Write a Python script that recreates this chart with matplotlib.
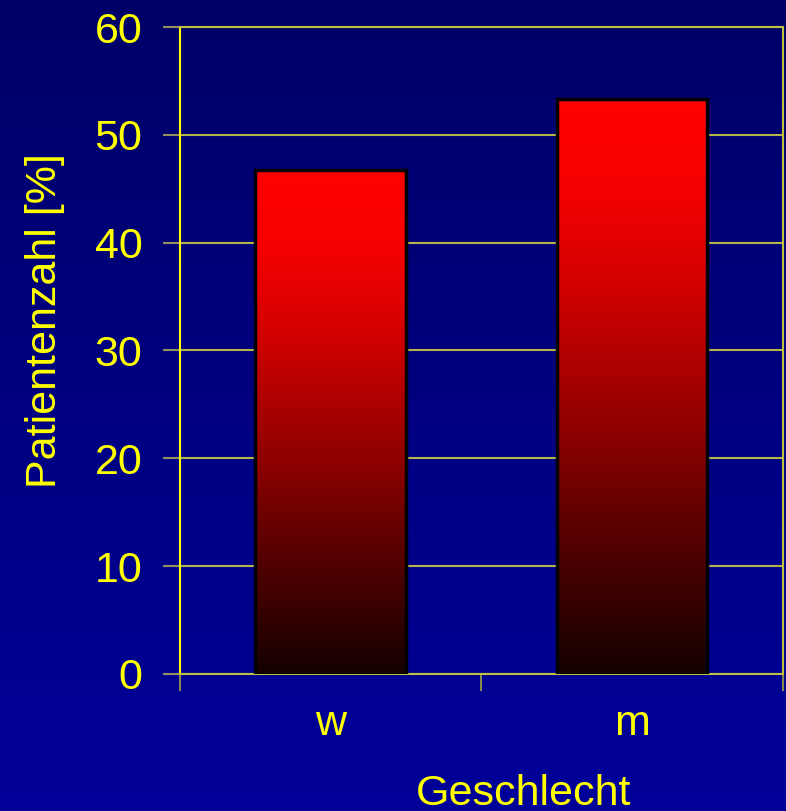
import numpy as np
import matplotlib
matplotlib.use("Agg")
import matplotlib.pyplot as plt
from matplotlib.colors import LinearSegmentedColormap

categories = ["w", "m"]
values = [46.7, 53.3]
yticks = [0, 10, 20, 30, 40, 50, 60]
xlabel = "Geschlecht"
ylabel = "Patientenzahl [%]"

plt.rcParams['font.family'] = ['Liberation Sans', 'DejaVu Sans']

fig = plt.figure(figsize=(7.86, 8.11), dpi=100)

# background gradient
bg = fig.add_axes([0, 0, 1, 1], zorder=0)
bg_cmap = LinearSegmentedColormap.from_list("bg", ["#000099", "#000068"])
grad = np.linspace(0, 1, 256).reshape(-1, 1)
bg.imshow(grad, aspect="auto", cmap=bg_cmap, origin="lower", extent=(0, 1, 0, 1))
bg.set_axis_off()

ax = fig.add_axes([0.229, 0.169, 0.767, 0.7977], zorder=1)
ax.set_facecolor("none")

x = np.arange(len(categories))
bars = ax.bar(x, values, width=0.5, color="none", edgecolor="black", linewidth=2.5, zorder=3)

bar_cmap = LinearSegmentedColormap.from_list(
    "bar",
    [(0.0, "#150000"), (0.1, "#300000"), (0.25, "#5a0000"), (0.4, "#880000"),
     (0.55, "#b00000"), (0.7, "#d80000"), (0.85, "#f50000"), (1.0, "#ff0000")])
for b in bars:
    x0, w, h = b.get_x(), b.get_width(), b.get_height()
    ax.imshow(grad, aspect="auto", cmap=bar_cmap, origin="lower",
              extent=(x0, x0 + w, 0, h), zorder=2)

ax.set_xlim(-0.5, len(categories) - 0.5)
ax.set_ylim(0, 60)

ax.set_yticks(yticks)
ax.yaxis.grid(True, color="#b4b44a", linewidth=1.5, zorder=1)
ax.set_axisbelow(True)

ax.set_xticks(x)
ax.set_xticklabels(categories)
ax.set_xticks(np.arange(-0.5, len(categories), 1.0), minor=True)
ax.tick_params(axis="x", which="major", length=0, pad=22, labelsize=31, labelcolor="#ffff00")
ax.tick_params(axis="x", which="minor", length=12, width=1.2, color="#a0a040", direction="out")
ax.tick_params(axis="y", length=12, width=1.5, color="#909060", pad=15, labelsize=31, labelcolor="#ffff00")

ax.spines["left"].set_color("#ffff00")
ax.spines["left"].set_linewidth(1.5)
for s in ["right", "bottom", "top"]:
    ax.spines[s].set_color("#c0c040")
    ax.spines[s].set_linewidth(1.5)

ax.set_xlabel(xlabel, fontsize=31, color="#ffff00")
ax.xaxis.set_label_coords(0.57, -0.155)
ax.set_ylabel(ylabel, fontsize=31, color="#ffff00")
ax.yaxis.set_label_coords(-0.19, 0.547)

fig.savefig("out.png", dpi=100)
